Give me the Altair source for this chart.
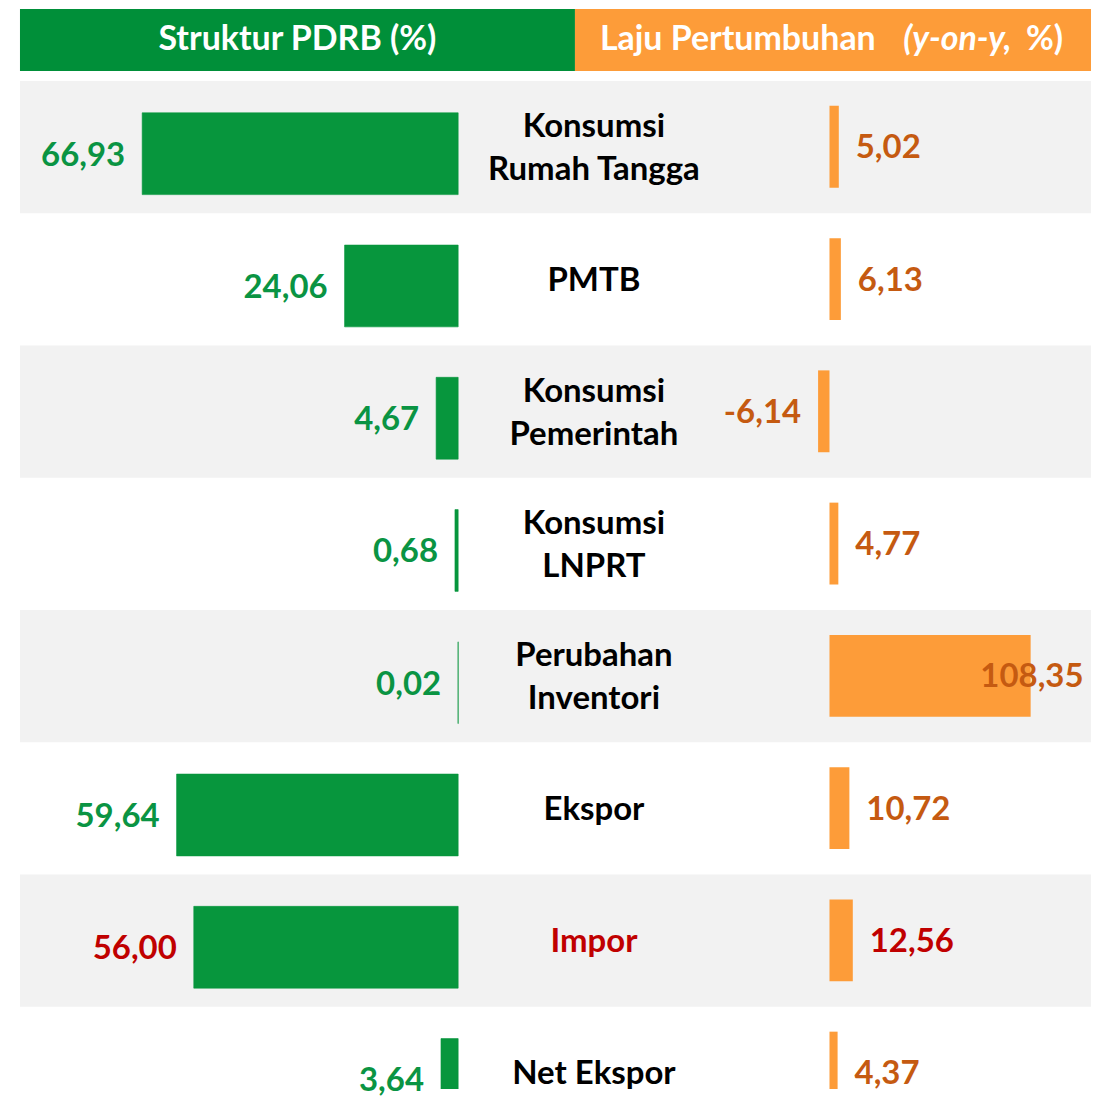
import altair as alt
import pandas as pd

# ---------------- data ----------------
categories = ["Konsumsi\nRumah Tangga", "PMTB", "Konsumsi\nPemerintah", "Konsumsi\nLNPRT",
              "Perubahan\nInventori", "Ekspor", "Impor", "Net Ekspor"]
struktur = [66.93, 24.06, 4.67, 0.68, 0.02, 59.64, 56.00, 3.64]
laju = [5.02, 6.13, -6.14, 4.77, 108.35, 10.72, 12.56, 4.37]
highlight = [False, False, False, False, False, False, True, False]

header_left = "Struktur PDRB (%)"
header_right_a = "Laju Pertumbuhan"
header_right_b = "(y-on-y,"
header_right_c = "%)"

# ---------------- style ----------------
FONT = "Lato"
GREEN_HDR = "#008f39"
GREEN_BAR = "#07963d"
GREEN_TXT = "#0a9443"
ORANGE = "#fd9c39"
ORANGE_TXT = "#c55a11"
RED = "#c00000"
SHADE = "#f2f2f2"

W = 1073
H_HDR = 62
H_BODY = 1010
ROW_PX = 132.5
VISIBLE_ROWS = H_BODY / ROW_PX
LINE_H = 43

LEFT_ZERO, LEFT_K = 439, 4.73
RIGHT_ZERO, RIGHT_K = 811, 1.86


def fmt(v):
    return f"{v:.2f}".replace(".", ",")


df = pd.DataFrame({
    "cat": categories,
    "row": list(range(len(categories))),
    "lines": [c.count("\n") + 1 for c in categories],
    "struktur": struktur,
    "laju": laju,
    "s_label": [fmt(v) for v in struktur],
    "l_label": [fmt(v) for v in laju],
    "impor": highlight,
})

yscale = alt.Scale(domain=[0, VISIBLE_ROWS], reverse=True, nice=False, zero=False)
lscale = alt.Scale(domain=[-(W - LEFT_ZERO) / LEFT_K, LEFT_ZERO / LEFT_K], reverse=True, nice=False, zero=False)
rscale = alt.Scale(domain=[-RIGHT_ZERO / RIGHT_K, (W - RIGHT_ZERO) / RIGHT_K], nice=False, zero=False)

base = alt.Chart(df)

bg = base.transform_filter("datum.row % 2 == 0").transform_calculate(
    y0="datum.row", y1="datum.row + 1"
).mark_rect(color=SHADE, clip=True).encode(
    x=alt.value(0), x2=alt.value(W),
    y=alt.Y("y0:Q", scale=yscale, axis=None), y2="y1:Q",
)

left_bar = base.transform_calculate(
    y0="datum.row + 0.2415", y1="datum.row + 0.86", zero="0"
).mark_rect(color=GREEN_BAR, stroke=GREEN_BAR, strokeWidth=0.6, clip=True).encode(
    x=alt.X("struktur:Q", scale=lscale, axis=None), x2="zero:Q",
    y=alt.Y("y0:Q", scale=yscale, axis=None), y2="y1:Q",
)

left_text = base.transform_calculate(yt="datum.row + 0.565").mark_text(
    align="right", baseline="middle", dx=-17, fontSize=33, fontWeight="bold", font=FONT
).encode(
    x=alt.X("struktur:Q", scale=lscale, axis=None),
    y=alt.Y("yt:Q", scale=yscale, axis=None),
    text="s_label:N",
    color=alt.condition("datum.impor", alt.value(RED), alt.value(GREEN_TXT)),
)

mid_text = base.transform_calculate(
    yt=f"datum.row + 0.513 - (datum.lines - 1) * {LINE_H / 2 / ROW_PX}"
).mark_text(
    align="center", baseline="middle", lineBreak="\n", lineHeight=LINE_H,
    fontSize=33, fontWeight="bold", font=FONT
).encode(
    x=alt.value(575),
    y=alt.Y("yt:Q", scale=yscale, axis=None),
    text="cat:N",
    color=alt.condition("datum.impor", alt.value(RED), alt.value("#000000")),
)

right_bar = base.transform_calculate(
    y0="datum.row + 0.189", y1="datum.row + 0.808", zero="0"
).mark_rect(color=ORANGE, clip=True).encode(
    x=alt.X("laju:Q", scale=rscale, axis=None), x2="zero:Q",
    y=alt.Y("y0:Q", scale=yscale, axis=None), y2="y1:Q",
)


def right_text(filt, align, dx):
    return base.transform_filter(filt).transform_calculate(yt="datum.row + 0.51").mark_text(
        align=align, baseline="middle", dx=dx, fontSize=33, fontWeight="bold", font=FONT
    ).encode(
        x=alt.X("laju:Q", scale=rscale, axis=None),
        y=alt.Y("yt:Q", scale=yscale, axis=None),
        text="l_label:N",
        color=alt.condition("datum.impor", alt.value(RED), alt.value(ORANGE_TXT)),
    )


rt_pos = right_text("datum.laju >= 0 && datum.laju < 100", "left", 17)
rt_neg = right_text("datum.laju < 0", "right", -17)
rt_big = right_text("datum.laju >= 100", "right", 53)

body = alt.layer(
    bg, left_bar, left_text, mid_text, right_bar, rt_pos, rt_neg, rt_big
).resolve_scale(x="independent").properties(width=W, height=H_BODY)

# ---------------- header ----------------
hdf = pd.DataFrame({"k": [0]})
hb = alt.Chart(hdf)
HFS = 34
h_green = hb.mark_rect(color=GREEN_HDR).encode(
    x=alt.value(0), x2=alt.value(556), y=alt.value(0), y2=alt.value(H_HDR))
h_orange = hb.mark_rect(color=ORANGE).encode(
    x=alt.value(556), x2=alt.value(W), y=alt.value(0), y2=alt.value(H_HDR))
h_t1 = hb.mark_text(align="center", baseline="middle", fontSize=HFS, fontWeight="bold",
                    font=FONT, color="white", text=header_left).encode(
    x=alt.value(278), y=alt.value(31))
h_t2 = hb.mark_text(align="left", baseline="middle", fontSize=HFS, fontWeight="bold",
                    font=FONT, color="white", text=header_right_a).encode(
    x=alt.value(581), y=alt.value(31))
h_t3 = hb.mark_text(align="left", baseline="middle", fontSize=HFS, fontWeight="bold",
                    fontStyle="italic", font=FONT, color="white", text=header_right_b).encode(
    x=alt.value(885), y=alt.value(31))
h_t4 = hb.mark_text(align="right", baseline="middle", fontSize=HFS, fontWeight="bold",
                    font=FONT, color="white", text=header_right_c).encode(
    x=alt.value(1045), y=alt.value(31))
header = alt.layer(h_green, h_orange, h_t1, h_t2, h_t3, h_t4).properties(width=W, height=H_HDR)

chart = alt.vconcat(header, body, spacing=10).properties(
    padding={"left": 12, "top": 0, "right": 0, "bottom": 0}
).configure_view(stroke=None)

chart.save("out.html", embed_options={"renderer": "svg", "actions": False})
